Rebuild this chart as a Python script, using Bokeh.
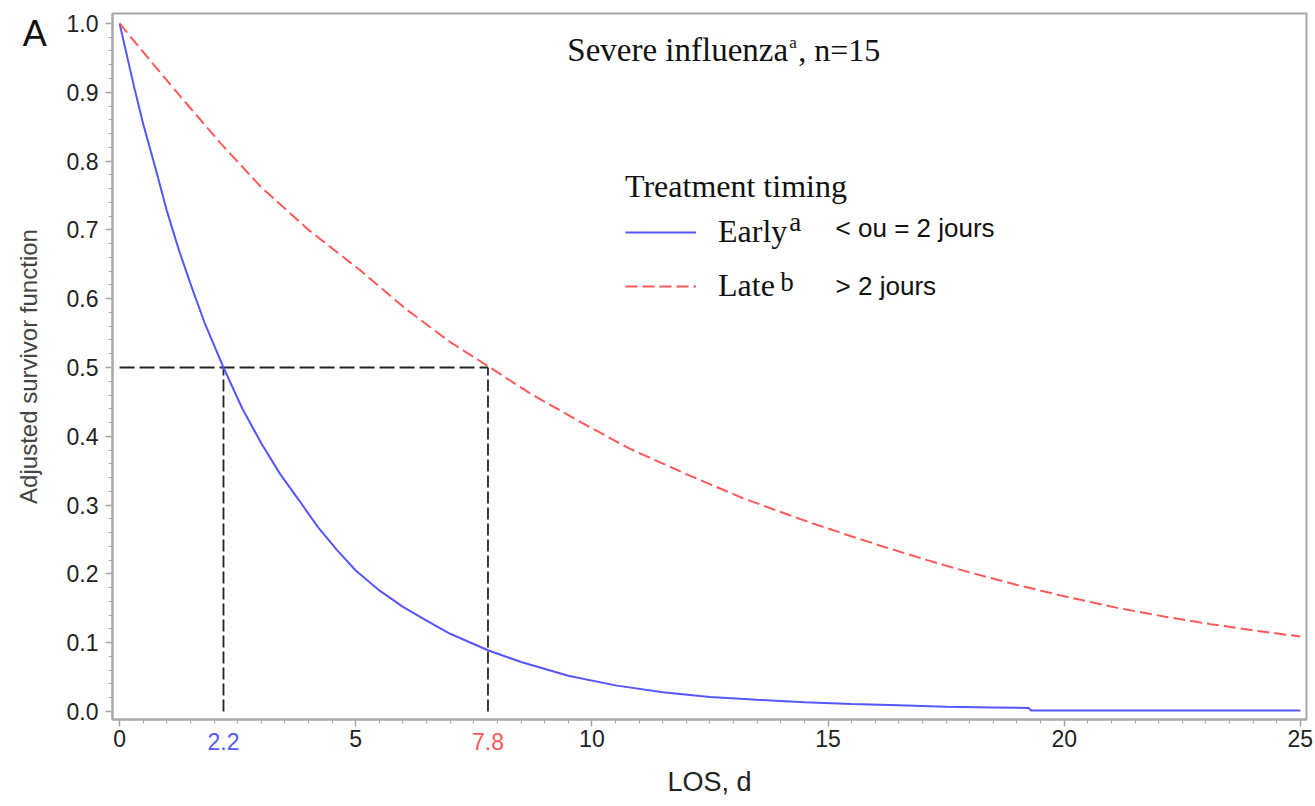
import numpy as np
from bokeh.plotting import figure
from bokeh.models import (Range1d, FixedTicker, PrintfTickFormatter, Legend,
                          LegendItem, Label)
from bokeh.core.properties import value
from bokeh.embed import file_html
from bokeh.resources import INLINE

# ---------------- data ----------------
early_t = [0, 0.3, 0.5, 0.75, 1.0, 1.25, 1.5, 1.8, 2.2, 2.6, 3.0, 3.4, 3.8, 4.2,
           4.6, 5.0, 5.5, 6.0, 6.5, 7.0, 7.8, 8.5, 9.5, 10.5, 11.5, 12.5, 13.5,
           14.5, 15.5, 16.5, 17.5, 18.5, 19.25, 19.3, 25.0]
early_s = [1.0, 0.91, 0.854, 0.792, 0.728, 0.672, 0.622, 0.565, 0.50, 0.44,
           0.39, 0.345, 0.307, 0.268, 0.235, 0.205, 0.176, 0.152, 0.132, 0.113,
           0.089, 0.072, 0.052, 0.038, 0.028, 0.021, 0.017, 0.0135, 0.011,
           0.009, 0.007, 0.006, 0.005, 0.0015, 0.0015]

late_t = [0, 0.65, 1.3, 2.15, 3.0, 4.0, 5.1, 6.1, 7.0, 7.8, 8.7, 9.7, 10.8,
          12.0, 13.2, 14.4, 15.3, 16.2, 17.1, 17.9, 19.0, 20.1, 21.1, 22.2,
          23.1, 24.0, 25.0]
late_s = [1.0, 0.946, 0.893, 0.825, 0.762, 0.700, 0.641, 0.583, 0.537, 0.502,
          0.462, 0.423, 0.382, 0.345, 0.31, 0.28, 0.259, 0.239, 0.220, 0.204,
          0.184, 0.166, 0.151, 0.137, 0.127, 0.118, 0.109]

median_t = [2.2, 7.8]
median_labels = ["2.2", "7.8"]
median_level = 0.5

x_ticks = [0, 5, 10, 15, 20, 25]
y_ticks = [0.0, 0.1, 0.2, 0.3, 0.4, 0.5, 0.6, 0.7, 0.8, 0.9, 1.0]

series_names = ["Early", "Late"]
series_sup = ["a", "b"]
series_desc = ["<  ou = 2 jours", "> 2 jours"]
legend_title = "Treatment timing"
title_main = "Severe influenza"
title_sup = "a"
title_tail = ", n=15"
panel_letter = "A"
x_title = "LOS, d"
y_title = "Adjusted survivor function"

# ---------------- style ----------------
SANS = "Liberation Sans"
SERIF = "Liberation Serif"
BLUE = "#5656ff"
RED = "#ff5858"
GREY = "#a8a8a8"
TXT = "#222222"

p = figure(width=1315, height=806, output_backend="svg", toolbar_location=None,
           x_range=Range1d(-0.15, 25.13), y_range=Range1d(-0.0116, 1.0145),
           min_border_left=112, min_border_right=9, min_border_top=13,
           min_border_bottom=87, background_fill_color="white",
           border_fill_color="white")
p.grid.visible = False
p.outline_line_color = GREY
p.outline_line_width = 2

# axes
xa = p.xaxis[0]
xa.ticker = FixedTicker(ticks=x_ticks,
                        minor_ticks=list(np.arange(0, 25.01, 0.5)))
ya = p.yaxis[0]
ya.ticker = FixedTicker(ticks=y_ticks,
                        minor_ticks=list(np.round(np.arange(0, 1.001, 0.02), 2)))
ya.formatter = PrintfTickFormatter(format="%.1f")
for ax in (xa, ya):
    ax.axis_line_color = GREY
    ax.axis_line_width = 2
    ax.major_tick_line_color = GREY
    ax.minor_tick_line_color = GREY
    ax.major_tick_line_width = 1.5
    ax.minor_tick_line_width = 1.2
    ax.major_tick_out = 7
    ax.major_tick_in = 0
    ax.minor_tick_out = 4
    ax.minor_tick_in = 0
    ax.major_label_text_font = SANS
    ax.major_label_text_font_size = "23px"
    ax.major_label_text_color = TXT
    ax.axis_label_text_font = SANS
    ax.axis_label_text_font_style = "normal"
xa.major_label_standoff = 3
xa.axis_label = x_title
xa.axis_label_text_font_size = "27px"
xa.axis_label_text_color = TXT
xa.axis_label_standoff = 17
ya.major_label_standoff = 7
ya.axis_label = y_title
ya.axis_label_text_font_size = "24px"
ya.axis_label_text_color = "#444444"
ya.axis_label_standoff = 22

# median reference lines
p.segment(x0=[0], y0=[median_level], x1=[max(median_t)], y1=[median_level],
          line_color="#222222", line_width=2.2, line_dash="15 5")
p.segment(x0=median_t, y0=[0] * len(median_t), x1=median_t,
          y1=[median_level] * len(median_t),
          line_color="#222222", line_width=1.8, line_dash="12 4")

# curves
r_early = p.line(early_t, early_s, line_color=BLUE, line_width=2)
r_late = p.line(late_t, late_s, line_color=RED, line_width=2, line_dash="12 5")

legend = Legend(
    items=[LegendItem(label=series_names[0], renderers=[r_early]),
           LegendItem(label=series_names[1], renderers=[r_late])],
    location=(513, 415), title=legend_title,
    title_text_font=SERIF, title_text_font_size="32px",
    title_text_font_style="normal", title_text_color="#111111",
    label_text_font=SERIF, label_text_font_size="32px",
    label_text_color="#111111",
    glyph_width=71, glyph_height=30, label_height=30, label_standoff=22,
    spacing=17, padding=0, margin=0, title_standoff=8,
    border_line_alpha=0, background_fill_alpha=0)
p.add_layout(legend)

# legend superscripts and descriptions
sup_x = [14.18, 13.99]
sup_y = [0.711, 0.624]
desc_y = [0.703, 0.618]
for i in range(2):
    p.add_layout(Label(x=sup_x[i], y=sup_y[i], text=series_sup[i],
                       text_font=SERIF, text_font_size="27px",
                       text_color="#111111", text_baseline="alphabetic"))
    p.add_layout(Label(x=15.16, y=desc_y[i], text=series_desc[i],
                       text_font=SANS, text_font_size="26px",
                       text_color="#111111", text_baseline="alphabetic"))

# title
p.add_layout(Label(x=9.48, y=0.961, text=title_main, text_font=SERIF,
                   text_font_size="33px", text_color="#111111",
                   text_baseline="alphabetic"))
p.add_layout(Label(x=14.18, y=0.972, text=title_sup, text_font=SERIF,
                   text_font_size="17px", text_color="#111111",
                   text_baseline="alphabetic"))
p.add_layout(Label(x=14.37, y=0.961, text=title_tail, text_font=SERIF,
                   text_font_size="32px", text_color="#111111",
                   text_baseline="alphabetic"))

# coloured median tick labels: text glyph drawn at overlay level (unclipped)
p.text(x=median_t, y=[-0.044] * len(median_t), text=median_labels,
       text_color=[BLUE, RED], text_font=value(SANS),
       text_font_size=value("23px"), text_align="center",
       text_baseline="middle", level="overlay")

# panel letter
p.text(x=[-2.05], y=[0.985], text=[panel_letter], text_color="#111111",
       text_font=value(SANS), text_font_size=value("36px"),
       text_align="left", text_baseline="alphabetic", level="overlay")

open("out.html", "w").write(file_html(p, INLINE))
